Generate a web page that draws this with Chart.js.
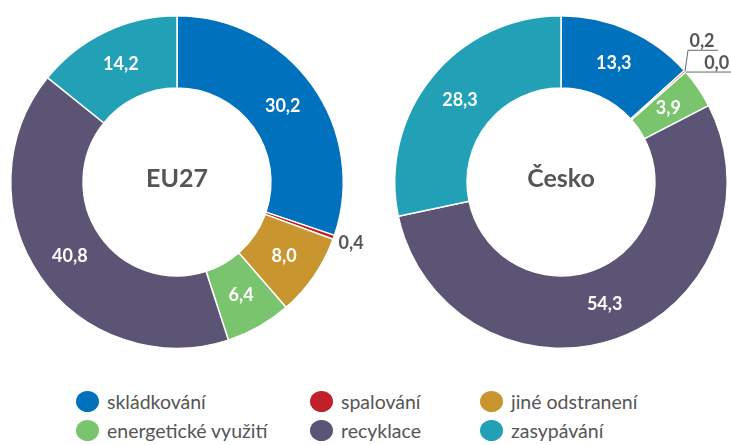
<!DOCTYPE html>
<html><head><meta charset="utf-8">
<script src="https://cdn.jsdelivr.net/npm/chart.js@4.4.0/dist/chart.umd.min.js"></script>
<style>
html,body{margin:0;padding:0;background:#fff;width:731px;height:445px;overflow:hidden;font-family:Lato,"Open Sans",sans-serif;}
.wrap{position:absolute;top:0px;height:365px;}
#w1{left:0px;width:375px}#w2{left:380px;width:351px}
.leg{position:absolute;display:flex;align-items:center;font-size:19.5px;color:#555;white-space:nowrap;}
.leg i{display:inline-block;width:23px;height:21px;border-radius:50%;margin-right:8px;}
</style></head><body>
<div class="wrap" id="w1"><canvas id="c1"></canvas></div>
<div class="wrap" id="w2"><canvas id="c2"></canvas></div>
<div id="legend"></div>
<script>
const categories = ["skládkování","spalování","jiné odstranení","energetické využití","recyklace","zasypávání"];
const colors = ["#0071BC","#C0202A","#C9952F","#7BC46E","#5C5474","#21A0B6"];
const eu27 = [30.2,0.4,8.0,6.4,40.8,14.2];
const cesko = [13.3,0.2,0.0,3.9,54.3,28.3];
const titles = ["EU27","Česko"];

const fmt = v => v.toFixed(1).replace('.',',');
const FONT = 'Lato, "Open Sans", sans-serif';

const labelPlugin = {
  id:'labels',
  afterDatasetsDraw(chart){
    const ctx = chart.ctx;
    const meta = chart.getDatasetMeta(0);
    const data = chart.data.datasets[0].data;
    const name = chart.options.plugins.centerTitle;
    const arc0 = meta.data[0];
    const cx = arc0.x, cy = arc0.y;
    ctx.save();
    ctx.fillStyle = '#555';
    ctx.font = 'bold 25px ' + FONT;
    ctx.textAlign='center'; ctx.textBaseline='alphabetic';
    ctx.fillText(name, cx, cy+5);
    meta.data.forEach((arc,i)=>{
      const v = data[i];
      const mid = (arc.startAngle+arc.endAngle)/2;
      const R = arc.outerRadius, r = arc.innerRadius;
      ctx.font='bold 18px '+FONT;
      if (v >= 2) {
        const rr = (R+r)/2;
        ctx.fillStyle='#fff';
        ctx.textAlign='center'; ctx.textBaseline='middle';
        ctx.fillText(fmt(v), cx+Math.cos(mid)*rr, cy+Math.sin(mid)*rr);
      } else {
        ctx.fillStyle='#555';
        const ox = cx+Math.cos(mid)*R, oy = cy+Math.sin(mid)*R;
        if (name==='EU27') {
          ctx.textAlign='left'; ctx.textBaseline='middle';
          ctx.fillText(fmt(v), cx+Math.cos(mid)*(R+5), cy+Math.sin(mid)*(R+5)+4);
        } else {
          ctx.strokeStyle='#666'; ctx.lineWidth=1;
          ctx.beginPath();
          if (i===1) {
            ctx.moveTo(ox,oy); ctx.lineTo(ox+3,oy-21); ctx.lineTo(ox+33,oy-21);
            ctx.stroke();
            ctx.textAlign='center'; ctx.textBaseline='alphabetic';
            ctx.fillText(fmt(v), ox+17, oy-24);
          } else {
            ctx.moveTo(ox,oy); ctx.lineTo(ox+46,oy);
            ctx.stroke();
            ctx.textAlign='center'; ctx.textBaseline='alphabetic';
            ctx.fillText(fmt(v), ox+31, oy-3);
          }
        }
      }
    });
    ctx.restore();
  }
};

function make(id, values, title, pad){
  new Chart(document.getElementById(id), {
    type:'doughnut',
    data:{labels:categories, datasets:[{data:values, backgroundColor:colors, borderColor:'#fff', borderWidth:1.5}]},
    options:{
      responsive:true, maintainAspectRatio:false, animation:false,
      cutout:'56.5%',
      layout:{padding:pad},
      plugins:{legend:{display:false}, tooltip:{enabled:false}, centerTitle:title}
    },
    plugins:[labelPlugin]
  });
}
make('c1', eu27, titles[0], {left:10, right:31, top:15, bottom:16});
make('c2', cesko, titles[1], {left:14, right:3, top:15, bottom:16});

const legPos = [[76,403],[310,403],[480,403],[76,432],[310,432],[480,432]];
const lg = document.getElementById('legend');
categories.forEach((c,i)=>{
  const d=document.createElement('div'); d.className='leg';
  d.style.left=legPos[i][0]+'px'; d.style.top=(legPos[i][1]-13)+'px';
  d.innerHTML='<i style="background:'+colors[i]+'"></i>'+c;
  lg.appendChild(d);
});
</script>
</body></html>
